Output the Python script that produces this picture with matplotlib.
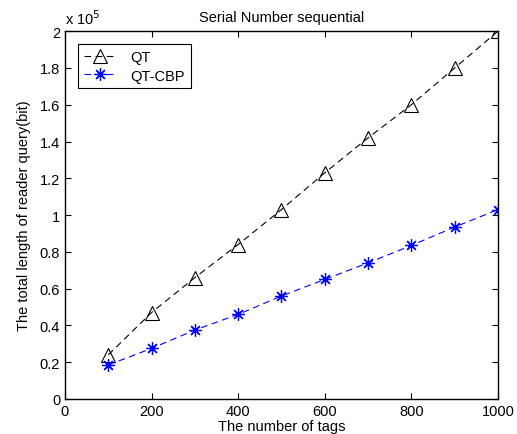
import matplotlib
matplotlib.use('Agg')
import matplotlib.pyplot as plt

# données (longueur totale en bits)
tags = [100, 200, 300, 400, 500, 600, 700, 800, 900, 1000]
qt = [24000, 47000, 66000, 84000, 103000, 123000, 142000, 160000, 180000, 200000]
qt_cbp = [18500, 27500, 37500, 46000, 56000, 65000, 74000, 83500, 93500, 103000]

x_ticks = [0, 200, 400, 600, 800, 1000]
y_ticks = [0, 0.2, 0.4, 0.6, 0.8, 1, 1.2, 1.4, 1.6, 1.8, 2]

plt.rcParams['font.family'] = ['Liberation Sans', 'DejaVu Sans']
fs = 10.5

fig = plt.figure(figsize=(5.17, 4.35), dpi=100)
ax = fig.add_axes([0.1257, 0.0805, 0.8375, 0.8455])

ax.plot(tags, [v / 1e5 for v in qt], '--', color='black', linewidth=0.8,
        marker='^', markersize=9.5, markerfacecolor='none', markeredgewidth=0.8,
        dashes=(6, 4), label='QT')
ax.plot(tags, [v / 1e5 for v in qt_cbp], '--', color='blue', linewidth=0.8,
        marker=(8, 2, 0), markersize=9, markeredgewidth=0.9,
        dashes=(6, 4), label='QT-CBP')

ax.set_xlim(0, 1000)
ax.set_ylim(0, 2)
ax.set_xticks(x_ticks)
ax.set_yticks(y_ticks)
ax.set_yticklabels(['0', '0.2', '0.4', '0.6', '0.8', '1', '1.2', '1.4', '1.6', '1.8', '2'])
ax.tick_params(direction='in', length=4, labelsize=fs, top=True, right=True, width=0.8)
for s in ax.spines.values():
    s.set_linewidth(1.0)

ax.text(0.0, 1.012, 'x 10$^5$', transform=ax.transAxes, fontsize=fs, va='bottom', ha='left')
ax.set_title('Serial Number sequential', fontsize=fs, pad=7)
ax.set_xlabel('The number of tags', fontsize=fs, labelpad=1)
ax.set_ylabel('The total length of reader query(bit)', fontsize=fs, labelpad=6)

leg = ax.legend(loc='upper left', fontsize=fs, fancybox=False, edgecolor='black',
                framealpha=1, handlelength=2.2, borderaxespad=0.9,
                borderpad=0.4, labelspacing=0.3, handletextpad=1.0)
leg.get_frame().set_linewidth(0.8)

fig.savefig('out.png', dpi=100)
